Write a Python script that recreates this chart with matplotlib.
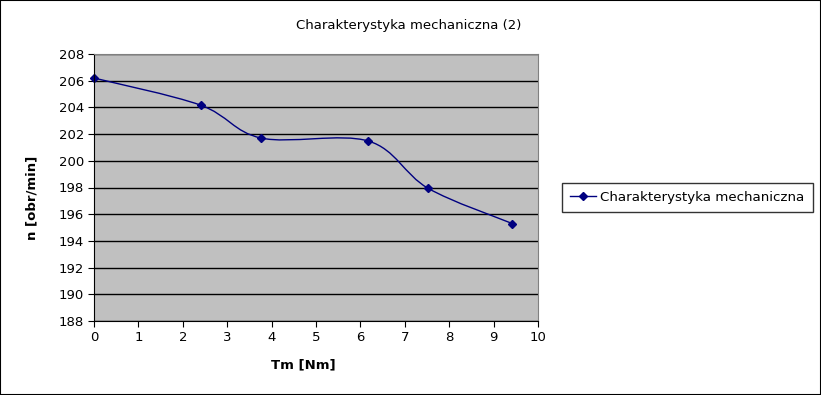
import matplotlib.pyplot as plt
from matplotlib.path import Path
from matplotlib.patches import PathPatch, Rectangle
from matplotlib.lines import Line2D

# measured data
torque = [0.0, 2.40, 3.77, 6.18, 7.52, 9.42]
speed = [206.2, 204.17, 201.7, 201.48, 197.95, 195.3]

x_ticks = list(range(0, 11))
y_ticks = list(range(188, 209, 2))

title = 'Charakterystyka mechaniczna (2)'
series_name = 'Charakterystyka mechaniczna'
navy = '#000080'

plt.rcParams['font.family'] = 'DejaVu Sans'

fig = plt.figure(figsize=(8.21, 3.95), dpi=100)
ax = fig.add_axes([94 / 821, 74 / 395, 444 / 821, 267 / 395])
ax.set_facecolor('#c0c0c0')
ax.set_xlim(0, 10)
ax.set_ylim(188, 208)
ax.set_xticks(x_ticks)
ax.set_yticks(y_ticks)
ax.grid(axis='y', color='black', linewidth=1)
ax.set_axisbelow(True)
ax.tick_params(labelsize=9.5, length=4, color='black', direction='out', pad=3)
for side in ['top', 'right']:
    ax.spines[side].set_color('#808080')
for side in ['left', 'bottom']:
    ax.spines[side].set_color('black')

# smoothed line (Excel style bezier through the points)
n = len(torque)
pts = list(zip(torque, speed))
verts = [pts[0]]
codes = [Path.MOVETO]
for i in range(n - 1):
    p0 = pts[i - 1] if i > 0 else pts[i]
    p1 = pts[i]
    p2 = pts[i + 1]
    p3 = pts[i + 2] if i + 2 < n else pts[i + 1]
    c1 = (p1[0] + (p2[0] - p0[0]) / 6, p1[1] + (p2[1] - p0[1]) / 6)
    c2 = (p2[0] - (p3[0] - p1[0]) / 6, p2[1] - (p3[1] - p1[1]) / 6)
    verts += [c1, c2, p2]
    codes += [Path.CURVE4] * 3
ax.add_patch(PathPatch(Path(verts, codes), facecolor='none', edgecolor=navy, linewidth=1))
ax.plot(torque, speed, linestyle='none', marker='D', markersize=4.5, color=navy, clip_on=False)

fig.text(303 / 821, 1 - 365 / 395, 'Tm [Nm]', fontsize=9.5, fontweight='bold',
         ha='center', va='center')
fig.text(32 / 821, 1 - 198 / 395, 'n [obr/min]', fontsize=9.5, fontweight='bold',
         ha='center', va='center', rotation=90)
fig.text(409 / 821, 1 - 25 / 395, title, fontsize=9.5, ha='center', va='center')

handle = Line2D([], [], color=navy, marker='D', markersize=4.5, linewidth=1)
leg = fig.legend([handle], [series_name], loc='center left',
                 bbox_to_anchor=(559 / 821, 1 - 197 / 395), fontsize=9.6,
                 frameon=True, fancybox=False, edgecolor='black',
                 handlelength=2.0, handletextpad=0.3, borderpad=0.6,
                 borderaxespad=0.2)
leg.get_frame().set_linewidth(1)

fig.patches.append(Rectangle((0, 0), 1, 1, transform=fig.transFigure,
                             fill=False, edgecolor='black', linewidth=1.5))

fig.savefig('out.png', dpi=100)
